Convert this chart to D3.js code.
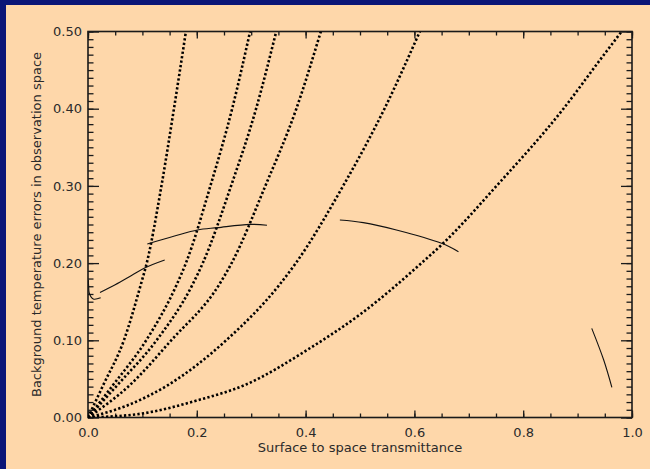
<!DOCTYPE html>
<html>
<head>
<meta charset="utf-8">
<script src="https://cdn.jsdelivr.net/npm/d3@7"></script>
<style>
    html, body { margin: 0; padding: 0; background: #0b1577; }
    .graph_container { width: 650px; height: 469px; }
    .style_tick { font-family: "DejaVu Sans", sans-serif; font-size: 13px; fill: #2a2a2a; }
</style>
</head>
<body>
<div class="graph_container"></div>
<script>
//^ DATA: dotted curves [transmittance, error] //
const curveA = [[0, 0], [0.028, 0.042], [0.066, 0.1], [0.097, 0.172], [0.108, 0.2], [0.135, 0.3], [0.158, 0.4], [0.18, 0.5]];
const curveB = [[0, 0], [0.046, 0.042], [0.107, 0.1], [0.163, 0.172], [0.18, 0.2], [0.225, 0.3], [0.265, 0.4], [0.298, 0.5]];
const curveC = [[0, 0], [0.054, 0.042], [0.126, 0.1], [0.192, 0.172], [0.211, 0.2], [0.263, 0.3], [0.309, 0.4], [0.346, 0.5]];
const curveD = [[0, 0], [0.077, 0.042], [0.153, 0.1], [0.241, 0.172], [0.264, 0.2], [0.326, 0.3], [0.383, 0.4], [0.428, 0.5]];
const curveE = [[0, 0], [0.07, 0.015], [0.147, 0.042], [0.254, 0.1], [0.352, 0.172], [0.382, 0.2], [0.469, 0.3], [0.545, 0.4], [0.61, 0.5]];
const curveF = [[0, 0], [0.098, 0.005], [0.2, 0.022], [0.288, 0.042], [0.404, 0.088], [0.503, 0.135], [0.613, 0.2], [0.652, 0.225], [0.751, 0.3], [0.874, 0.4], [0.941, 0.463], [0.981, 0.5]];

//^ DATA: solid segments //
const hookLine = [[0.0006, 0.178], [0.0012, 0.17], [0.0024, 0.161], [0.0097, 0.1535], [0.0233, 0.155]];
const lowLine = [[0.022, 0.162], [0.05, 0.172], [0.08, 0.184], [0.105, 0.194], [0.141, 0.204]];
const midLine = [[0.109, 0.2247], [0.159, 0.235], [0.201, 0.2429], [0.238, 0.2459], [0.298, 0.2502], [0.329, 0.249]];
const rightLine = [[0.463, 0.2558], [0.506, 0.2524], [0.567, 0.2429], [0.65, 0.2256], [0.681, 0.2148]];
const farLine = [[0.926, 0.1155], [0.948, 0.0745], [0.963, 0.0391]];

//^ TICKS //
const xMajor = [0, 0.2, 0.4, 0.6, 0.8, 1.0];
const xMinor = d3.range(0, 1.0001, 0.05);
const yMajor = [0, 0.1, 0.2, 0.3, 0.4, 0.5];
const yMinor = d3.range(0, 0.5001, 0.01);

const dottedCurves = [curveA, curveB, curveC, curveD, curveE, curveF];
const solidLines = [hookLine, lowLine, midLine, rightLine, farLine];

document.addEventListener("DOMContentLoaded", () => {
    const container = document.querySelector(".graph_container");

    //^ DIMENTIONS //
    const W = 650, H = 469;
    const left = 88, right = 632, top = 31.5, bottom = 417.5;

    const svg = d3.select(container).append("svg").attr("width", W).attr("height", H);

    // blue frame + peach page
    svg.append("rect").attr("width", W).attr("height", H).attr("fill", "#0b1577");
    svg.append("rect").attr("x", 6).attr("y", 5).attr("width", W - 6).attr("height", H - 5).attr("fill", "#fed7aa");

    const xScale = d3.scaleLinear().domain([0, 1]).range([left, right]);
    const yScale = d3.scaleLinear().domain([0, 0.5]).range([bottom, top]);

    svg.append("clipPath").attr("id", "plotclip")
        .append("rect").attr("x", left).attr("y", top).attr("width", right - left).attr("height", bottom - top);

    //^ AXES //
    const axisColor = "#1a1a1a";
    const styleAxis = (g) => {
        g.select(".domain").remove();
        g.selectAll(".tick line").attr("stroke", axisColor).attr("stroke-width", 1.3);
        g.selectAll(".tick text").attr("class", "style_tick").attr("fill", null);
    };

    svg.append("g").attr("transform", "translate(0," + bottom + ")")
        .call(d3.axisBottom(xScale).tickValues(xMinor).tickSizeInner(-4).tickSizeOuter(0).tickFormat(""))
        .call(styleAxis);
    svg.append("g").attr("transform", "translate(0," + bottom + ")")
        .call(d3.axisBottom(xScale).tickValues(xMajor).tickSizeInner(-7).tickSizeOuter(0).tickPadding(10).tickFormat(d3.format(".1f")))
        .call(styleAxis);
    svg.append("g").attr("transform", "translate(0," + top + ")")
        .call(d3.axisTop(xScale).tickValues(xMinor).tickSizeInner(-4).tickSizeOuter(0).tickFormat(""))
        .call(styleAxis);
    svg.append("g").attr("transform", "translate(0," + top + ")")
        .call(d3.axisTop(xScale).tickValues(xMajor).tickSizeInner(-7).tickSizeOuter(0).tickFormat(""))
        .call(styleAxis);

    svg.append("g").attr("transform", "translate(" + left + ",0)")
        .call(d3.axisLeft(yScale).tickValues(yMinor).tickSizeInner(-5.5).tickSizeOuter(0).tickFormat(""))
        .call(styleAxis);
    svg.append("g").attr("transform", "translate(" + left + ",0)")
        .call(d3.axisLeft(yScale).tickValues(yMajor).tickSizeInner(-11).tickSizeOuter(0).tickPadding(6).tickFormat(d3.format(".2f")))
        .call(styleAxis);
    svg.append("g").attr("transform", "translate(" + right + ",0)")
        .call(d3.axisRight(yScale).tickValues(yMinor).tickSizeInner(-5.5).tickSizeOuter(0).tickFormat(""))
        .call(styleAxis);
    svg.append("g").attr("transform", "translate(" + right + ",0)")
        .call(d3.axisRight(yScale).tickValues(yMajor).tickSizeInner(-11).tickSizeOuter(0).tickFormat(""))
        .call(styleAxis);

    svg.append("rect").attr("x", left).attr("y", top).attr("width", right - left).attr("height", bottom - top)
        .attr("fill", "none").attr("stroke", axisColor).attr("stroke-width", 1.6);

    //^ CURVES //
    const lineGen = d3.line().x((d) => xScale(d[0])).y((d) => yScale(d[1]));
    const plot = svg.append("g").attr("clip-path", "url(#plotclip)");

    plot.selectAll(".dotted").data(dottedCurves).enter().append("path")
        .attr("d", (d) => lineGen.curve(d3.curveMonotoneX)(d))
        .attr("fill", "none").attr("stroke", "#000").attr("stroke-width", 2.6)
        .attr("stroke-dasharray", "2.3,2.2");

    plot.selectAll(".solid").data(solidLines).enter().append("path")
        .attr("d", (d) => lineGen.curve(d3.curveCatmullRom)(d))
        .attr("fill", "none").attr("stroke", "#111").attr("stroke-width", 1.1);

    //^ TITLES //
    svg.append("text").attr("class", "style_tick").attr("x", (left + right) / 2).attr("y", 452)
        .attr("text-anchor", "middle").text("Surface to space transmittance");
    svg.append("text").attr("class", "style_tick")
        .attr("transform", "translate(41," + (top + bottom) / 2 + ") rotate(-90)")
        .attr("text-anchor", "middle").text("Background temperature errors in observation space");
});
</script>
</body>
</html>
